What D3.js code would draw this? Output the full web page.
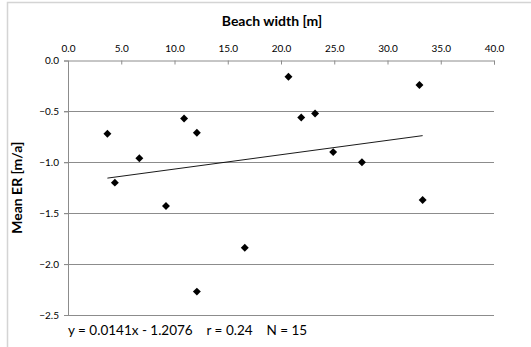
<!DOCTYPE html>
<html>
<head>
<meta charset="utf-8">
<script src="https://cdn.jsdelivr.net/npm/d3@7"></script>
<style>
  body { margin: 0; background: #fff; }
  text { font-family: Lato, "Open Sans", sans-serif; fill: #000; }
</style>
</head>
<body>
<div id="chart"></div>
<script>
// beach width [m] vs mean erosion rate [m/a]
const beachWidth = [3.7, 4.4, 6.7, 9.2, 10.9, 12.1, 12.1, 16.6, 20.7, 21.9, 23.2, 24.9, 27.6, 33.0, 33.3];
const meanER = [-0.72, -1.20, -0.96, -1.43, -0.57, -0.71, -2.27, -1.84, -0.16, -0.56, -0.52, -0.90, -1.00, -0.24, -1.37];
const xTicks = [0, 5, 10, 15, 20, 25, 30, 35, 40];
const yTicks = [0, -0.5, -1.0, -1.5, -2.0, -2.5];
const slope = 0.0141, intercept = -1.2076;
const statsLabel = "y = 0.0141x - 1.2076    r = 0.24    N = 15";

const width = 531, height = 347;
const margin = {top: 60.5, right: 37, bottom: 32, left: 68};
const grid = "#8c8c8c";

const svg = d3.select("#chart")
  .append("svg")
  .attr("width", width)
  .attr("height", height);

// chart area frame
svg.append("rect")
  .attr("x", 7.5).attr("y", 2.5)
  .attr("width", 600).attr("height", 400)
  .attr("fill", "none")
  .attr("stroke", "#d4d4d4")
  .attr("stroke-width", 1.5);

const x = d3.scaleLinear()
  .domain([0, 40])
  .range([margin.left, width - margin.right]);

const y = d3.scaleLinear()
  .domain([-2.5, 0])
  .range([height - margin.bottom, margin.top]);

// horizontal gridlines
svg.append("g")
  .selectAll("line")
  .data(yTicks.filter(d => d !== 0))
  .enter()
  .append("line")
  .attr("x1", margin.left - 4)
  .attr("x2", x(40))
  .attr("y1", d => Math.round(y(d)) + 0.5)
  .attr("y2", d => Math.round(y(d)) + 0.5)
  .attr("stroke", grid);

// left axis
const yAxis = svg.append("g")
  .attr("transform", "translate(" + margin.left + ",0)")
  .call(d3.axisLeft(y).tickValues(yTicks).tickFormat(d3.format(".1f")).tickSize(4).tickPadding(5));
yAxis.select(".domain").attr("stroke", grid);
yAxis.selectAll(".tick line").attr("stroke", grid);
yAxis.selectAll("text").style("font-size", "10px").attr("fill", "#000");

// top axis, ticks pointing into the plot
const xAxis = svg.append("g")
  .attr("transform", "translate(0," + margin.top + ")")
  .call(d3.axisTop(x).tickValues(xTicks).tickFormat(d3.format(".1f")).tickSizeInner(-4).tickSizeOuter(-4).tickPadding(9));
xAxis.select(".domain").attr("stroke", grid);
xAxis.selectAll(".tick line").attr("stroke", grid);
xAxis.selectAll("text").style("font-size", "10px").attr("fill", "#000");

// axis titles
svg.append("text")
  .attr("x", 272)
  .attr("y", 26)
  .attr("text-anchor", "middle")
  .style("font-size", "14px")
  .style("font-weight", "bold")
  .text("Beach width [m]");

svg.append("text")
  .attr("transform", "translate(22," + (y(-1.25)) + ")rotate(-90)")
  .attr("text-anchor", "middle")
  .style("font-size", "14px")
  .style("font-weight", "bold")
  .text("Mean ER [m/a]");

// linear trendline over the data range
const xExt = d3.extent(beachWidth);
svg.append("line")
  .attr("x1", x(xExt[0])).attr("y1", y(slope * xExt[0] + intercept))
  .attr("x2", x(xExt[1])).attr("y2", y(slope * xExt[1] + intercept))
  .attr("stroke", "#000")
  .attr("stroke-width", 0.9);

// diamond markers
const diamond = d3.symbol().type(d3.symbolDiamond2).size(40);
svg.append("g")
  .selectAll("path")
  .data(beachWidth.map((d, i) => [d, meanER[i]]))
  .enter()
  .append("path")
  .attr("d", diamond)
  .attr("transform", d => "translate(" + x(d[0]) + "," + y(d[1]) + ")")
  .attr("fill", "#000");

svg.append("text")
  .attr("x", margin.left)
  .attr("y", 335)
  .style("font-size", "13.5px")
  .style("white-space", "pre")
  .attr("xml:space", "preserve")
  .text(statsLabel);
</script>
</body>
</html>
